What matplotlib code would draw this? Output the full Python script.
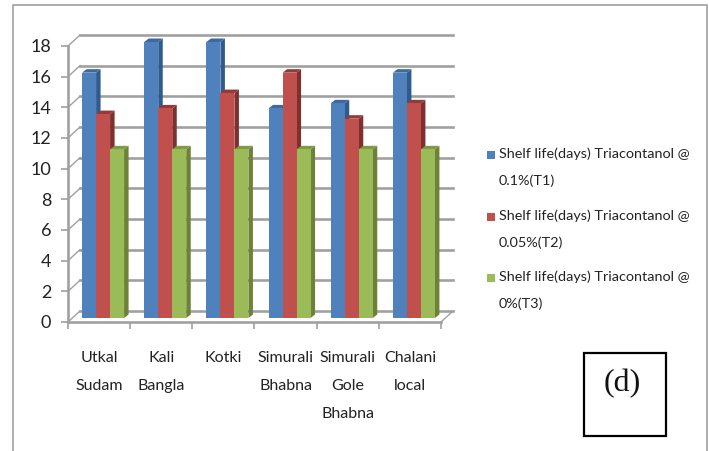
import numpy as np
import matplotlib
matplotlib.use("Agg")
import matplotlib.pyplot as plt
from matplotlib.patches import Polygon, Rectangle

plt.rcParams['font.family'] = ['Lato', 'DejaVu Sans']

categories = ['Utkal\nSudam', 'Kali\nBangla', 'Kotki', 'Simurali\nBhabna', 'Simurali\nGole\nBhabna', 'Chalani\nlocal']
t1_values = [16, 18, 18, 13.67, 14, 16]
t2_values = [13.3, 13.67, 14.67, 16, 13, 14]
t3_values = [11, 11, 11, 11, 11, 11]
series_names = ['Shelf life(days) Triacontanol @\n0.1%(T1)',
                'Shelf life(days) Triacontanol @\n0.05%(T2)',
                'Shelf life(days) Triacontanol @\n0%(T3)']
y_ticks = list(range(0, 20, 2))

front = ['#4F81BD', '#C0504D', '#9BBB59']
side = ['#2F5B8F', '#7F2F2D', '#6B8238']
top = ['#3A6A9F', '#963A38', '#7F9A45']
grid_col = '#A0A0A0'

W, H = 709, 451
fig = plt.figure(figsize=(W / 100, H / 100), dpi=100, facecolor='white')
ax = fig.add_axes([68 / W, 1 - 322 / H, 373 / W, 276 / H])
ax.set_xlim(0, 6)
ax.set_ylim(0, 18)
ax.patch.set_visible(False)
for s in ax.spines.values():
    s.set_visible(False)

# one pixel in data units
px_x = 6 / 373
px_y = 18 / 276
wall_x = 12 * px_x
wall_y = 11 * px_y

# back wall, floor and side wall
for v in y_ticks:
    ax.plot([wall_x, 6 + wall_x], [v + wall_y, v + wall_y], color=grid_col, lw=1.9, clip_on=False, zorder=1)
    ax.plot([0, wall_x], [v, v + wall_y], color=grid_col, lw=1, clip_on=False, zorder=1)
ax.plot([6, 6 + wall_x], [0, wall_y], color=grid_col, lw=1, clip_on=False, zorder=1)
ax.plot([0, 6], [0, 0], color=grid_col, lw=1.9, clip_on=False, zorder=2)
ax.plot([0, 0], [0, 18], color=grid_col, lw=1.9, clip_on=False, zorder=2)

# 3d bars
bar_w = 14 * px_x
lift_x = 4 * px_x
lift_y = 4 * px_y
depth_x = 4.5 * px_x
depth_y = 3.5 * px_y
all_values = [t1_values, t2_values, t3_values]
for c in range(len(categories)):
    for j, vals in enumerate(all_values):
        x0 = c + 0.5 - 1.5 * bar_w + lift_x + j * bar_w
        x1 = x0 + bar_w
        v = vals[c] + lift_y
        z = 5 + j
        ax.add_patch(Polygon([(x1, lift_y), (x1 + depth_x, lift_y + depth_y), (x1 + depth_x, v + depth_y), (x1, v)],
                             facecolor=side[j], edgecolor='none', clip_on=False, zorder=z))
        ax.add_patch(Polygon([(x0, v), (x0 + depth_x, v + depth_y), (x1 + depth_x, v + depth_y), (x1, v)],
                             facecolor=top[j], edgecolor='none', clip_on=False, zorder=z))
        ax.bar(x0, vals[c], width=bar_w, bottom=lift_y, align='edge', color=front[j], clip_on=False, zorder=z + 0.5)

ax.set_yticks(y_ticks)
ax.tick_params(axis='y', length=5, width=1.2, color=grid_col, labelsize=13, pad=7, labelcolor='#222222')
ax.set_xticks(range(7))
ax.set_xticklabels([])
ax.tick_params(axis='x', which='major', length=5, width=1.2, color=grid_col)
ax.set_xticks(np.arange(6) + 0.5, categories, minor=True)
ax.tick_params(axis='x', which='minor', length=0, pad=21, labelsize=11.5, labelcolor='#222222')
for lab in ax.get_xticklabels(minor=True):
    lab.set_linespacing(2.25)
    lab.set_verticalalignment('top')

# legend by hand
legend_y = [155, 217, 278]
for name, col, ly in zip(series_names, front, legend_y):
    fig.add_artist(Rectangle((487 / W, 1 - (ly + 4) / H), 8 / W, 8 / H, transform=fig.transFigure,
                             facecolor=col, edgecolor='none'))
    fig.text(499 / W, 1 - (ly - 8) / H, name, fontsize=10.4, color='#222222', va='top', linespacing=2.4)

# outer frame and (d) box
fig.add_artist(plt.Line2D([13 / W, 13 / W, 707 / W, 707 / W], [0, 1 - 5 / H, 1 - 5 / H, 0], color='#A0A0A0', lw=1.2))
fig.add_artist(Rectangle((583.5 / W, 1 - 436 / H), 82 / W, 83 / H, transform=fig.transFigure,
                         facecolor='white', edgecolor='black', lw=1.6))
fig.text(622 / W, 1 - 384 / H, '(d)', fontsize=23, family='Liberation Serif', ha='center', va='center', color='#111111')

fig.savefig('out.png', dpi=100)
